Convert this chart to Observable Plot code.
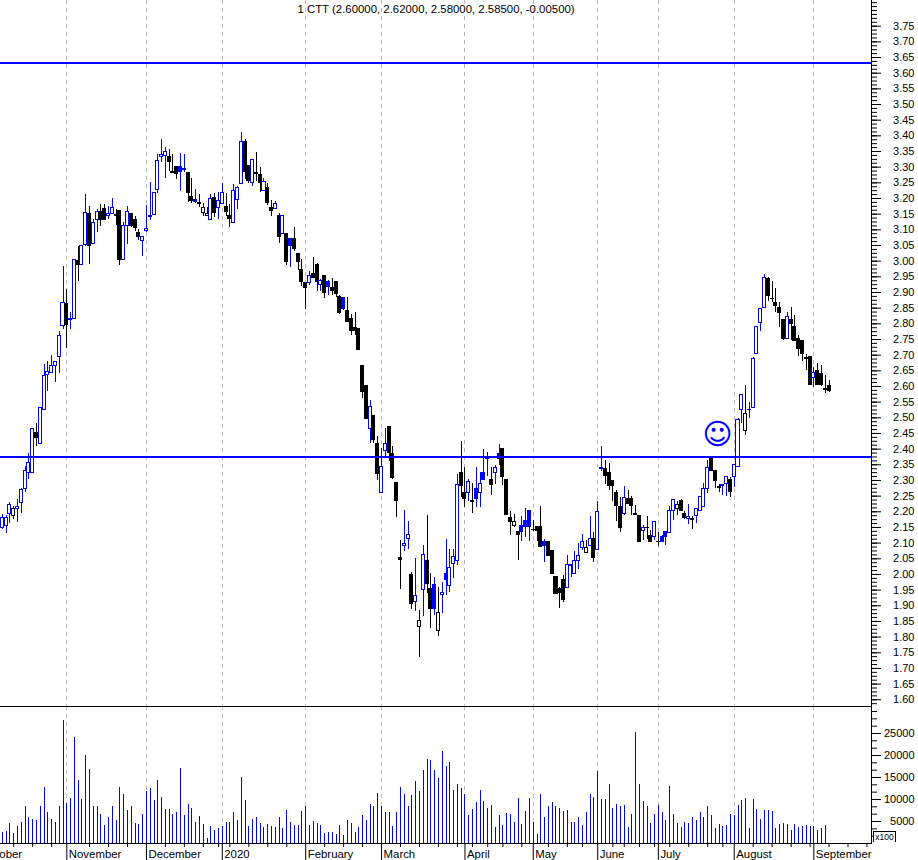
<!DOCTYPE html>
<html>
<head>
<meta charset="utf-8">
<script src="https://cdn.jsdelivr.net/npm/d3@7"></script>
<script src="https://cdn.jsdelivr.net/npm/@observablehq/plot@0.6"></script>
<style>
html,body{margin:0;padding:0;background:#fff;overflow:hidden}
#chart{position:relative;width:918px;height:860px}
#chart svg{display:block;background:#fff}
#unit{position:absolute;left:873px;top:831px;width:23px;height:11px;border:1px solid #000;border-bottom:none;box-sizing:border-box;font:8.5px/10px "Liberation Sans",sans-serif;text-align:center;color:#000;background:#fff}
</style>
</head>
<body>
<div id="chart"></div>
<script>
const titleText = "1 CTT (2.60000, 2.62000, 2.58000, 2.58500, -0.00500)";

const highs = [
2.191,2.188,2.230,2.217,2.238,2.274,2.344,2.385,2.465,2.481,
2.532,2.670,2.680,2.699,2.679,2.775,2.983,2.910,2.836,3.004,
3.047,3.049,3.212,3.174,3.133,3.165,3.181,3.181,3.174,3.199,
3.165,3.162,3.122,3.174,3.152,3.143,3.100,3.079,3.178,3.251,
3.218,3.340,3.387,3.362,3.356,3.339,3.302,3.344,3.340,3.280,
3.263,3.229,3.212,3.185,3.170,3.212,3.215,3.218,3.247,3.215,
3.181,3.244,3.237,3.410,3.387,3.304,3.322,3.346,3.298,3.263,
3.247,3.194,3.190,3.151,3.145,3.087,3.072,3.106,3.023,3.004,
2.931,2.967,3.011,2.993,2.940,2.954,2.938,2.945,2.932,2.890,
2.884,2.884,2.830,2.836,2.782,2.664,2.603,2.555,2.507,2.440,
2.402,2.466,2.472,2.408,2.293,2.108,2.204,2.169,2.005,2.051,
1.884,2.091,2.188,2.002,1.989,1.957,1.973,2.112,2.079,2.080,
2.318,2.424,2.341,2.302,2.289,2.341,2.326,2.399,2.388,2.341,
2.348,2.415,2.402,2.303,2.201,2.191,2.134,2.185,2.209,2.204,
2.172,2.153,2.217,2.112,2.105,2.076,1.993,1.958,1.997,2.060,
2.029,2.073,2.099,2.127,2.108,2.185,2.134,2.233,2.408,2.364,
2.354,2.297,2.268,2.246,2.281,2.268,2.249,2.220,2.185,2.156,
2.185,2.140,2.166,2.134,2.124,2.134,2.217,2.238,2.233,2.239,
2.200,2.223,2.185,2.210,2.249,2.290,2.364,2.370,2.329,2.287,
2.287,2.313,2.309,2.351,2.497,2.574,2.602,2.549,2.691,2.791,
2.848,2.956,2.947,2.935,2.912,2.867,2.813,2.835,2.852,2.827,
2.763,2.744,2.702,2.695,2.660,2.672,2.666,2.635,2.620];

const bodyTops = [
2.181,2.181,2.222,2.208,2.215,2.270,2.329,2.356,2.465,2.453,
2.532,2.634,2.647,2.666,2.679,2.762,2.866,2.862,2.816,3.004,
3.002,3.049,3.154,3.151,3.122,3.158,3.158,3.167,3.151,3.169,
3.146,3.161,3.112,3.158,3.151,3.130,3.090,3.078,3.102,3.144,
3.218,3.321,3.339,3.348,3.333,3.285,3.301,3.301,3.293,3.280,
3.206,3.194,3.186,3.170,3.151,3.199,3.202,3.193,3.218,3.173,
3.143,3.225,3.234,3.381,3.381,3.304,3.322,3.280,3.276,3.253,
3.234,3.170,3.182,3.143,3.145,3.087,3.071,3.071,3.023,2.972,
2.931,2.953,2.960,2.989,2.937,2.954,2.932,2.913,2.932,2.884,
2.881,2.842,2.814,2.788,2.782,2.664,2.603,2.535,2.507,2.415,
2.342,2.415,2.472,2.383,2.293,2.054,2.098,2.127,1.997,1.932,
1.852,2.063,2.044,1.952,1.965,1.878,1.941,2.000,2.021,2.056,
2.286,2.325,2.261,2.294,2.233,2.274,2.290,2.325,2.371,2.303,
2.341,2.383,2.402,2.303,2.179,2.169,2.134,2.156,2.172,2.201,
2.143,2.153,2.153,2.105,2.105,2.076,1.993,1.952,1.981,2.031,
2.029,2.044,2.059,2.104,2.085,2.114,2.112,2.200,2.341,2.338,
2.325,2.297,2.261,2.214,2.245,2.242,2.242,2.192,2.185,2.149,
2.148,2.124,2.166,2.104,2.118,2.134,2.203,2.238,2.222,2.233,
2.194,2.184,2.176,2.210,2.247,2.273,2.340,2.370,2.329,2.279,
2.287,2.310,2.303,2.350,2.494,2.573,2.513,2.526,2.688,2.789,
2.848,2.947,2.944,2.880,2.867,2.849,2.813,2.821,2.813,2.791,
2.751,2.744,2.691,2.695,2.644,2.650,2.640,2.593,2.600];

const bodyBottoms = [
2.149,2.154,2.194,2.186,2.210,2.227,2.273,2.324,2.324,2.435,
2.417,2.526,2.637,2.644,2.666,2.695,2.794,2.796,2.813,2.815,
2.987,2.989,3.051,3.048,3.054,3.131,3.131,3.131,3.145,3.151,
3.144,3.003,3.004,3.112,3.111,3.105,3.076,3.065,3.096,3.141,
3.148,3.226,3.333,3.336,3.316,3.281,3.278,3.284,3.291,3.217,
3.191,3.188,3.184,3.154,3.145,3.131,3.153,3.169,3.183,3.158,
3.133,3.122,3.196,3.247,3.284,3.255,3.250,3.278,3.249,3.225,
3.185,3.159,3.165,3.076,3.087,2.997,3.048,3.039,2.997,2.933,
2.914,2.930,2.945,2.933,2.923,2.897,2.916,2.904,2.894,2.833,
2.846,2.805,2.776,2.776,2.718,2.582,2.496,2.464,2.430,2.322,
2.259,2.393,2.389,2.309,2.234,2.045,2.091,2.112,1.905,1.911,
1.833,1.951,1.971,1.889,1.889,1.819,1.934,1.981,1.964,2.033,
2.043,2.281,2.242,2.259,2.231,2.242,2.259,2.303,2.369,2.287,
2.323,2.367,2.310,2.191,2.169,2.154,2.127,2.134,2.153,2.153,
2.141,2.140,2.089,2.092,2.060,2.003,1.939,1.940,1.917,1.956,
2.027,2.000,2.044,2.085,2.069,2.090,2.054,2.079,2.338,2.313,
2.281,2.281,2.217,2.148,2.192,2.224,2.218,2.190,2.102,2.139,
2.147,2.105,2.120,2.102,2.105,2.120,2.132,2.201,2.209,2.202,
2.181,2.176,2.174,2.187,2.203,2.216,2.274,2.329,2.299,2.277,
2.282,2.290,2.262,2.312,2.344,2.525,2.457,2.525,2.532,2.704,
2.804,2.850,2.888,2.878,2.856,2.834,2.753,2.752,2.798,2.744,
2.719,2.703,2.689,2.606,2.628,2.606,2.606,2.589,2.585];

const lows = [
2.142,2.132,2.164,2.176,2.167,2.196,2.262,2.303,2.324,2.409,
2.417,2.526,2.585,2.640,2.614,2.642,2.783,2.721,2.783,2.815,
2.936,2.989,3.048,2.989,3.054,3.092,3.111,3.131,3.133,3.151,
3.114,2.987,3.004,3.054,3.108,3.096,3.066,3.016,3.092,3.130,
3.148,3.215,3.316,3.265,3.285,3.279,3.262,3.223,3.284,3.188,
3.183,3.183,3.171,3.143,3.143,3.131,3.138,3.134,3.183,3.143,
3.107,3.122,3.165,3.244,3.262,3.249,3.239,3.255,3.220,3.225,
3.178,3.143,3.165,3.057,3.087,2.987,2.981,3.032,2.971,2.919,
2.847,2.923,2.945,2.904,2.903,2.882,2.890,2.890,2.885,2.830,
2.842,2.805,2.763,2.763,2.715,2.562,2.496,2.419,2.419,2.300,
2.259,2.374,2.360,2.303,2.183,1.953,2.074,2.080,1.889,1.883,
1.736,1.866,1.938,1.828,1.870,1.803,1.876,1.934,1.943,1.986,
2.029,2.246,2.214,2.234,2.195,2.214,2.215,2.303,2.313,2.252,
2.287,2.349,2.284,2.191,2.124,2.151,2.044,2.105,2.118,2.105,
2.137,2.105,2.089,2.038,2.057,2.003,1.939,1.891,1.910,1.956,
1.991,2.000,2.016,2.076,2.067,2.090,2.038,2.079,2.329,2.287,
2.268,2.234,2.169,2.135,2.188,2.224,2.188,2.188,2.102,2.108,
2.111,2.105,2.108,2.090,2.105,2.091,2.132,2.172,2.188,2.202,
2.174,2.159,2.143,2.162,2.203,2.216,2.258,2.329,2.273,2.261,
2.252,2.249,2.246,2.277,2.344,2.482,2.443,2.497,2.532,2.704,
2.776,2.850,2.872,2.869,2.837,2.788,2.747,2.752,2.747,2.744,
2.696,2.680,2.651,2.606,2.596,2.606,2.600,2.577,2.580];

// o = hollow blue, B = solid blue, k = solid black, w = hollow black
const candleKinds = (
"ooowoooook"+"oooooookoo"+"kookookkoo"+"kkookkkooo"+"ooookkkBok"+
"kBkwwokook"+"koookkokko"+"kkokokBkkk"+"kokkokBkkk"+"Bkkkkkkokk"+
"ookkkkooko"+"wokkBwoBoo"+"okkokBoBBk"+"oBkkkwkBBB"+"kkkBkkkkko"+
"oooowokook"+"kkkkokkkko"+"kkokBBoowk"+"kokooookkk"+"ookooowooo"+
"ookkkkkokk"+"kkkkokkkk").split("");

const volumes = [
2600,2800,4600,2300,3900,4800,8300,5800,5500,5300,
8500,12800,7100,5500,4800,8300,28000,9200,10300,24200,
14400,10100,20100,16900,8300,8300,6700,4200,5800,8500,
5300,12800,11200,7600,8500,4600,4400,6700,11900,12600,
9800,14400,10500,7800,7800,6700,7100,17100,6400,8900,
8000,4800,6200,4400,1200,3900,3000,3500,3900,4800,
4800,7100,5300,15100,9800,3900,5500,5800,4600,3700,
4400,3900,3700,6000,3500,7600,4800,4200,4200,7300,
8300,4200,5100,4600,4200,2300,2600,2600,2100,4200,
1900,5300,4600,2600,3700,6400,5300,8900,8300,11400,
8300,7100,7100,3900,7100,12800,11200,8300,11000,14200,
11900,16700,19200,18900,16700,14800,21000,17600,18500,12100,
13500,12600,11200,6400,7800,9400,12100,9600,8000,8700,
3700,6400,4200,6900,6700,4800,10300,4400,7300,10300,
4800,2100,11200,6000,8500,9400,8500,8000,7300,7600,
4800,4800,6000,4200,7100,11200,10500,16400,10100,10100,
13500,8000,8900,8500,8700,3700,6700,25300,13500,9600,
8300,4600,6700,8700,7100,5300,13000,6700,4600,3700,
4800,4600,5800,5300,7100,5800,8300,6400,3500,4400,
3900,4200,6700,6400,8700,9800,10300,3500,10100,7800,
5500,7600,7600,7300,3300,4400,4600,4400,3000,4400,
3700,3900,4200,3900,3900,3000,3500,4200];

const monthStarts = [17,38,58,80,100,122,140,157,173,193,214];
const monthLabelStarts = [-6,17,38,58,80,100,122,140,157,173,193,214];
const monthNames = ["October","November","December","2020","February","March","April","May","June","July","August","September"];
const weekTicks = [3,8,13,23,28,33,43,48,53,57,60,65,70,75,85,90,95,105,110,115,120,124,128,132,137,144,149,153,161,164,168,172,176,181,186,190,198,203,208,213,218,223,228];

const levels = [3.632, 2.376];
const smiley = [{i:188.6, p:2.447, t:"\u263A"}];

const priceLabels = d3.range(32,76).map(v => v * 0.05);
const priceMinor = d3.range(126,308).map(v => v * 0.0125);
const volumeLabels = [5000,10000,15000,20000,25000];
const volumeMinor = d3.range(1,19).map(v => v * 5000 / 3);

const xScale = {domain:[-0.485, 229.2], range:[0, 871], axis:null};
const colorOf = k => (k === "o" || k === "B") ? "#0000ff" : "#000000";
const fillOf = k => (k === "o" || k === "w") ? "#ffffff" : colorOf(k);
const idx = d3.range(highs.length);
const font = '"Liberation Sans", Arial, sans-serif';

const pricePlot = Plot.plot({
  width:918, height:706,
  marginTop:0, marginBottom:0, marginLeft:0, marginRight:47,
  style:{fontFamily:font, fontSize:"11px", background:"#fff", color:"#000"},
  x:xScale,
  y:{domain:[1.5785, 3.832], range:[706, 0], axis:null, label:null},
  marks:[
    Plot.ruleX(monthStarts, {x:d=>d, stroke:"#b9b9b9", strokeDasharray:"4,4", strokeWidth:1, shapeRendering:"crispEdges"}),
    Plot.ruleX(idx, {x:i=>i, y1:i=>lows[i], y2:i=>highs[i], stroke:i=>colorOf(candleKinds[i]), strokeWidth:1, shapeRendering:"crispEdges"}),
    Plot.rect(idx, {x1:i=>i-0.4, x2:i=>i+0.4, y1:i=>bodyBottoms[i], y2:i=>bodyTops[i],
      fill:i=>fillOf(candleKinds[i]), stroke:i=>colorOf(candleKinds[i]), strokeWidth:1, shapeRendering:"crispEdges"}),
    Plot.ruleY(levels, {y:d=>d, stroke:"#0000ff", strokeWidth:2, shapeRendering:"crispEdges"}),
    Plot.text(smiley, {x:"i", y:"p", text:"t", fontSize:29, fill:"#0000ff", fontFamily:"DejaVu Sans"}),
    Plot.frame({anchor:"right", stroke:"#000"}),
    Plot.axisY(priceMinor, {anchor:"right", label:null, tickSize:5, tickFormat:()=>"", stroke:"#000"}),
    Plot.axisY(priceLabels, {anchor:"right", label:null, tickSize:9, tickPadding:34, textAnchor:"end", tickFormat:d=>d.toFixed(2), fontSize:11, fill:"#000", stroke:"#000"}),
    Plot.text([titleText], {frameAnchor:"top", dy:4, lineAnchor:"top", fontSize:11.4, fill:"#000"})
  ]
});

const volumePlot = Plot.plot({
  width:918, height:154,
  marginTop:0, marginBottom:17, marginLeft:0, marginRight:47,
  style:{fontFamily:font, fontSize:"11px", background:"#fff", color:"#000"},
  x:xScale,
  y:{domain:[0, 31136], range:[137, 0], axis:null, label:null},
  marks:[
    Plot.ruleX(monthStarts, {x:d=>d, stroke:"#b9b9b9", strokeDasharray:"4,4", strokeWidth:1, shapeRendering:"crispEdges"}),
    Plot.ruleX(volumes, {x:(d,i)=>i, y1:0, y2:d=>d, stroke:"#0000ff", strokeWidth:1, shapeRendering:"crispEdges"}),
    Plot.ruleY([0], {stroke:"#000", shapeRendering:"crispEdges"}),
    Plot.frame({anchor:"top", stroke:"#000"}),
    Plot.frame({anchor:"right", stroke:"#000"}),
    Plot.axisY(volumeMinor, {anchor:"right", label:null, tickSize:5, tickFormat:()=>"", stroke:"#000"}),
    Plot.axisY(volumeLabels, {anchor:"right", label:null, tickSize:9, tickPadding:34, textAnchor:"end", fontSize:11, fill:"#000", stroke:"#000", tickFormat:d=>String(d)}),
    Plot.axisX(weekTicks, {anchor:"bottom", label:null, tickSize:4, tickFormat:()=>"", stroke:"#000"}),
    Plot.axisX(monthStarts, {anchor:"bottom", label:null, tickSize:17, tickFormat:()=>"", stroke:"#000"}),
    Plot.text(monthLabelStarts, {x:d=>d, y:0, text:(d,i)=>monthNames[i], dx:2, dy:11, textAnchor:"start", fontSize:11.4, fill:"#000"})
  ]
});

const chart = document.getElementById("chart");
chart.appendChild(pricePlot);
chart.appendChild(volumePlot);
const unit = document.createElement("div");
unit.id = "unit";
unit.textContent = "x100";
chart.appendChild(unit);
</script>
</body>
</html>
